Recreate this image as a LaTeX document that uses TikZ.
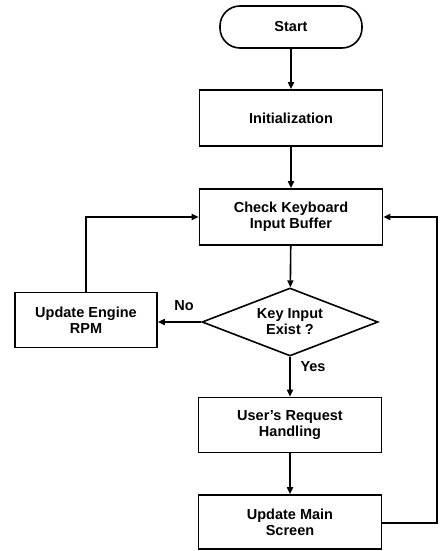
\documentclass[tikz,border=0pt]{standalone}
\usepackage{fontspec}
\setmainfont{Liberation Sans}
\usetikzlibrary{shapes.geometric,arrows.meta}
\begin{document}
\begin{tikzpicture}[x=1pt,y=-1pt,
  every node/.style={font=\fontsize{14.5}{16}\selectfont\bfseries, align=center},
  procbox/.style={draw, line width=1.6pt, minimum width=183pt, minimum height=56pt, inner sep=0pt},
  termbox/.style={draw, line width=1.6pt, rounded corners=20pt, minimum width=142pt, minimum height=42pt},
  decbox/.style={draw, line width=1.6pt, diamond, aspect=2.6, minimum width=176pt, minimum height=68pt, inner sep=0pt},
  flow/.style={line width=1.6pt, -{Triangle[length=7pt,width=6pt]}},
  lbl/.style={font=\fontsize{14.5}{16}\selectfont\bfseries}
]
\useasboundingbox (0,0) rectangle (444,551);
\node[termbox] (start) at (291,27) {Start};
\node[procbox] (init) at (291,118) {Initialization};
\node[procbox] (check) at (291,217) {Check Keyboard\\Input Buffer};
\node[decbox] (dec) at (290,322) {Key Input\\Exist ?};
\node[procbox, minimum width=142pt, minimum height=55pt] (engine) at (86,320) {Update Engine\\RPM};
\node[procbox, minimum height=55pt] (user) at (290,425) {User's Request\\Handling};
\node[procbox, minimum height=54pt] (main) at (290,522) {Update Main\\Screen};
\coordinate (rc) at (437,523);
\draw[flow] (start) -- (init);
\draw[flow] (init) -- (check);
\draw[flow] (check) -- (dec);
\draw[flow] (dec.west) -- (engine.east |- dec.west);
\node[lbl] (no) at (184,306) {No};
\draw[flow] (engine.north) |- (check.west);
\draw[flow] (dec.south) -- (user);
\node[lbl] (yes) at (313,367) {Yes};
\draw[flow] (user) -- (main);
\draw[flow] (main.east |- rc) -- (rc) |- (check.east);
\end{tikzpicture}
\end{document}
